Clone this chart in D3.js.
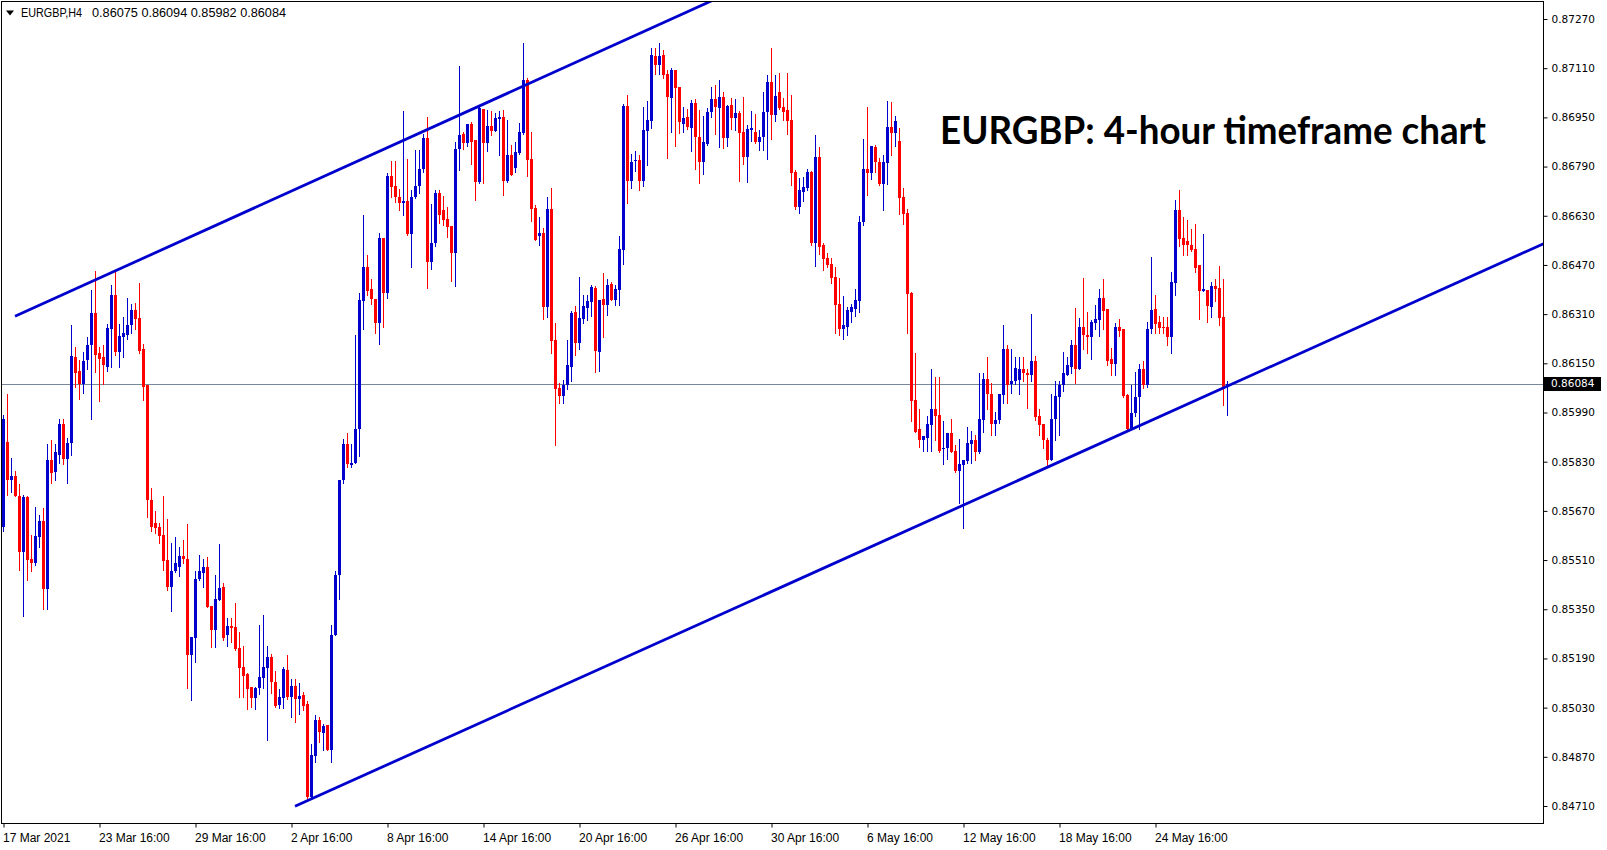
<!DOCTYPE html>
<html><head><meta charset="utf-8">
<script src="https://cdn.jsdelivr.net/npm/d3@7"></script>
<style>body{margin:0;background:#fff;overflow:hidden}svg{display:block}</style>
</head><body>
<svg id="c" width="1607" height="850"></svg>
<script>
const symbolLabel = "EURGBP,H4";
const lastQuote = [0.86075, 0.86094, 0.85982, 0.86084];
const titleText = "EURGBP: 4-hour timeframe chart";
const currentPrice = 0.86084;
const timeLabels = ["17 Mar 2021","23 Mar 16:00","29 Mar 16:00","2 Apr 16:00","8 Apr 16:00","14 Apr 16:00","20 Apr 16:00","26 Apr 16:00","30 Apr 16:00","6 May 16:00","12 May 16:00","18 May 16:00","24 May 16:00"];
const timeLabelBars = [0,24,48,72,96,120,144,168,192,216,240,264,288];
const priceTicks = [0.87270,0.87110,0.86950,0.86790,0.86630,0.86470,0.86310,0.86150,0.85990,0.85830,0.85670,0.85510,0.85350,0.85190,0.85030,0.84870,0.84710];

const openP = [0.85616,0.85895,0.85769,0.85782,0.85720,0.85535,0.85714,0.85512,0.85499,0.85584,0.85636,0.85415,0.85837,0.85795,0.85853,0.85951,0.85840,0.85892,0.86172,0.86126,
0.86084,0.86162,0.86211,0.86315,0.86182,0.86169,0.86139,0.86263,0.86373,0.86188,0.86237,0.86243,0.86273,0.86325,0.86299,0.86195,0.86078,0.85704,0.85632,0.85619,
0.85593,0.85509,0.85424,0.85473,0.85486,0.85522,0.85515,0.85200,0.85255,0.85447,0.85467,0.85486,0.85359,0.85281,0.85379,0.85421,0.85265,0.85294,0.85291,0.85223,
0.85161,0.85138,0.85096,0.85060,0.85093,0.85125,0.85158,0.85194,0.85112,0.85038,0.85060,0.85151,0.85064,0.85099,0.85057,0.85070,0.85041,0.84739,0.84872,0.84989,
0.84947,0.84973,0.84891,0.85265,0.85463,0.85769,0.85886,0.85818,0.85827,0.85935,0.86354,0.86464,0.86393,0.86360,0.86282,0.86559,0.86380,0.86760,0.86728,0.86692,
0.86672,0.86679,0.86572,0.86692,0.86728,0.86783,0.86884,0.86481,0.86542,0.86705,0.86650,0.86620,0.86598,0.86510,0.86848,0.86897,0.86868,0.86929,0.86877,0.86741,
0.86978,0.86868,0.86923,0.86906,0.86945,0.86952,0.86744,0.86828,0.86786,0.86835,0.86900,0.87072,0.86815,0.86656,0.86565,0.86575,0.86334,0.86653,0.86227,0.86071,
0.86045,0.86078,0.86139,0.86318,0.86217,0.86295,0.86331,0.86351,0.86396,0.86188,0.86360,0.86341,0.86409,0.86357,0.86390,0.86520,0.86988,0.86744,0.86809,0.86812,
0.86744,0.86906,0.86939,0.87150,0.87121,0.87153,0.87091,0.87013,0.87104,0.87049,0.86929,0.86952,0.86916,0.86997,0.86887,0.86806,0.86864,0.86968,0.87010,0.86981,
0.87017,0.86884,0.86991,0.86949,0.86965,0.86903,0.86822,0.86910,0.86903,0.86871,0.86887,0.86968,0.87066,0.86958,0.87033,0.86984,0.86975,0.86942,0.86773,0.86659,
0.86708,0.86721,0.86773,0.86542,0.86822,0.86536,0.86494,0.86474,0.86432,0.86344,0.86260,0.86269,0.86318,0.86328,0.86354,0.86611,0.86783,0.86770,0.86855,0.86806,
0.86734,0.86802,0.86919,0.86900,0.86874,0.86692,0.86640,0.86380,0.86032,0.85935,0.85899,0.85908,0.85948,0.86003,0.85983,0.85870,0.85873,0.85922,0.85866,0.85801,
0.85818,0.85831,0.85886,0.85899,0.85860,0.85967,0.86100,0.86051,0.85954,0.85964,0.86048,0.86198,0.86084,0.86091,0.86097,0.86133,0.86120,0.86113,0.86156,0.85977,
0.85954,0.85899,0.85837,0.85970,0.86042,0.86078,0.86113,0.86139,0.86211,0.86133,0.86269,0.86243,0.86237,0.86282,0.86292,0.86364,0.86328,0.86165,0.86149,0.86269,
0.86260,0.86048,0.85935,0.85987,0.86039,0.86130,0.86078,0.86260,0.86328,0.86286,0.86269,0.86269,0.86237,0.86412,0.86650,0.86559,0.86549,0.86536,0.86523,0.86471,
0.86386,0.86390,0.86334,0.86403,0.86396,0.86302,0.86075];

const highP = [0.85983,0.86051,0.85843,0.85801,0.85759,0.85723,0.85720,0.85593,0.85684,0.85658,0.85678,0.85886,0.85899,0.85889,0.85970,0.85970,0.85908,0.86276,0.86204,0.86162,
0.86188,0.86237,0.86390,0.86451,0.86204,0.86211,0.86279,0.86406,0.86455,0.86279,0.86302,0.86364,0.86344,0.86347,0.86412,0.86214,0.86078,0.85743,0.85671,0.85632,
0.85717,0.85645,0.85567,0.85584,0.85554,0.85574,0.85626,0.85259,0.85476,0.85525,0.85512,0.85519,0.85359,0.85460,0.85561,0.85434,0.85320,0.85320,0.85369,0.85275,
0.85229,0.85142,0.85096,0.85096,0.85298,0.85330,0.85229,0.85203,0.85148,0.85090,0.85161,0.85200,0.85122,0.85122,0.85109,0.85080,0.85051,0.84911,0.85005,0.84999,
0.84976,0.84973,0.85298,0.85476,0.85772,0.85905,0.85922,0.85886,0.86243,0.86380,0.86633,0.86503,0.86425,0.86360,0.86575,0.86559,0.86770,0.86809,0.86809,0.86718,
0.86971,0.86815,0.86715,0.86845,0.86845,0.86897,0.86952,0.86669,0.86715,0.86715,0.86695,0.86659,0.86598,0.86871,0.87118,0.86903,0.86929,0.86936,0.86877,0.86991,
0.86978,0.86975,0.86971,0.86965,0.86971,0.86975,0.86942,0.86861,0.86871,0.86932,0.87192,0.87079,0.86903,0.86666,0.86627,0.86591,0.86692,0.86721,0.86282,0.86087,
0.86097,0.86227,0.86321,0.86338,0.86432,0.86373,0.86373,0.86406,0.86403,0.86357,0.86445,0.86425,0.86416,0.86406,0.86565,0.86994,0.87023,0.86832,0.86841,0.86828,
0.86984,0.87004,0.87176,0.87176,0.87192,0.87169,0.87104,0.87111,0.87104,0.87049,0.86984,0.86978,0.87007,0.87010,0.86975,0.86955,0.86981,0.87049,0.87056,0.87072,
0.87033,0.86991,0.87013,0.87010,0.86971,0.87017,0.86926,0.86971,0.86962,0.86910,0.87033,0.87088,0.87176,0.87088,0.87095,0.87013,0.87095,0.87023,0.86780,0.86754,
0.86757,0.86783,0.86777,0.86893,0.86854,0.86542,0.86510,0.86494,0.86464,0.86429,0.86370,0.86334,0.86344,0.86393,0.86630,0.86880,0.86984,0.86858,0.86861,0.86819,
0.86828,0.87004,0.87001,0.86955,0.86916,0.86721,0.86653,0.86383,0.86185,0.86000,0.85912,0.85980,0.86133,0.86104,0.86104,0.85961,0.85922,0.85970,0.85883,0.85905,
0.85834,0.85944,0.85931,0.85918,0.86117,0.86120,0.86172,0.86087,0.85993,0.86051,0.86273,0.86211,0.86198,0.86169,0.86169,0.86169,0.86130,0.86312,0.86175,0.86003,
0.85954,0.85908,0.86051,0.86091,0.86091,0.86188,0.86169,0.86227,0.86331,0.86299,0.86429,0.86318,0.86292,0.86341,0.86393,0.86425,0.86328,0.86201,0.86282,0.86295,
0.86260,0.86051,0.86081,0.86123,0.86149,0.86156,0.86286,0.86497,0.86373,0.86305,0.86302,0.86302,0.86448,0.86682,0.86715,0.86627,0.86617,0.86588,0.86604,0.86471,
0.86572,0.86390,0.86416,0.86425,0.86468,0.86425,0.86094];

const lowP = [0.85603,0.85723,0.85730,0.85717,0.85479,0.85327,0.85444,0.85476,0.85493,0.85551,0.85350,0.85350,0.85762,0.85772,0.85827,0.85824,0.85762,0.85853,0.86074,0.86035,
0.86055,0.86133,0.85970,0.86123,0.86029,0.86084,0.86126,0.86139,0.86178,0.86139,0.86172,0.86230,0.86247,0.86260,0.86185,0.86032,0.85649,0.85606,0.85597,0.85564,
0.85479,0.85411,0.85343,0.85470,0.85457,0.85499,0.85093,0.85054,0.85177,0.85444,0.85421,0.85356,0.85226,0.85226,0.85379,0.85249,0.85229,0.85242,0.85216,0.85064,
0.85064,0.85025,0.85031,0.85025,0.85073,0.85093,0.84924,0.85077,0.85031,0.85028,0.85028,0.85057,0.84999,0.84982,0.85008,0.85021,0.84732,0.84732,0.84852,0.84917,
0.84891,0.84891,0.84852,0.85265,0.85382,0.85762,0.85814,0.85814,0.85827,0.85850,0.86260,0.86373,0.86344,0.86250,0.86214,0.86269,0.86364,0.86692,0.86676,0.86650,
0.86633,0.86568,0.86464,0.86689,0.86705,0.86773,0.86396,0.86458,0.86533,0.86607,0.86601,0.86562,0.86419,0.86403,0.86780,0.86848,0.86858,0.86799,0.86682,0.86738,
0.86738,0.86841,0.86893,0.86906,0.86828,0.86698,0.86741,0.86763,0.86773,0.86832,0.86897,0.86760,0.86614,0.86552,0.86536,0.86295,0.86302,0.86185,0.85883,0.86022,
0.86022,0.86065,0.86094,0.86178,0.86198,0.86282,0.86292,0.86305,0.86123,0.86126,0.86234,0.86308,0.86357,0.86341,0.86341,0.86474,0.86672,0.86721,0.86776,0.86715,
0.86728,0.86796,0.86916,0.87091,0.87091,0.87079,0.86818,0.86903,0.86858,0.86900,0.86903,0.86913,0.86841,0.86783,0.86738,0.86767,0.86861,0.86952,0.86897,0.86854,
0.86851,0.86858,0.86913,0.86910,0.86744,0.86799,0.86741,0.86874,0.86868,0.86845,0.86845,0.86815,0.86880,0.86939,0.86978,0.86942,0.86897,0.86731,0.86653,0.86640,
0.86679,0.86715,0.86536,0.86468,0.86507,0.86455,0.86464,0.86412,0.86250,0.86243,0.86230,0.86243,0.86286,0.86305,0.86318,0.86601,0.86698,0.86750,0.86773,0.86731,
0.86650,0.86734,0.86828,0.86858,0.86637,0.86604,0.86250,0.85961,0.85928,0.85879,0.85866,0.85866,0.85866,0.85902,0.85863,0.85821,0.85840,0.85860,0.85795,0.85694,
0.85613,0.85827,0.85827,0.85837,0.85857,0.85928,0.86000,0.85918,0.85918,0.85957,0.86022,0.86022,0.86055,0.86084,0.86051,0.86094,0.86006,0.86094,0.85964,0.85918,
0.85873,0.85818,0.85834,0.85899,0.85918,0.86061,0.86113,0.86117,0.86087,0.86130,0.86195,0.86185,0.86165,0.86260,0.86240,0.86260,0.86143,0.86113,0.86113,0.86240,
0.86042,0.85935,0.85935,0.85980,0.85935,0.86071,0.86074,0.86247,0.86247,0.86247,0.86250,0.86208,0.86185,0.86373,0.86533,0.86503,0.86503,0.86516,0.86448,0.86295,
0.86386,0.86286,0.86302,0.86354,0.86273,0.86016,0.85982];

const closeP = [0.85970,0.85769,0.85782,0.85717,0.85535,0.85714,0.85509,0.85499,0.85587,0.85636,0.85415,0.85837,0.85792,0.85860,0.85951,0.85840,0.85892,0.86175,0.86120,0.86084,
0.86159,0.86211,0.86315,0.86178,0.86165,0.86143,0.86266,0.86373,0.86188,0.86240,0.86247,0.86276,0.86325,0.86295,0.86191,0.86074,0.85704,0.85616,0.85613,0.85587,
0.85506,0.85424,0.85476,0.85499,0.85522,0.85515,0.85200,0.85259,0.85450,0.85473,0.85486,0.85356,0.85281,0.85382,0.85418,0.85255,0.85294,0.85288,0.85220,0.85158,
0.85132,0.85090,0.85060,0.85093,0.85129,0.85161,0.85194,0.85112,0.85034,0.85064,0.85155,0.85064,0.85099,0.85057,0.85067,0.85034,0.84739,0.84875,0.84989,0.84950,
0.84969,0.84891,0.85265,0.85463,0.85769,0.85886,0.85821,0.85827,0.85935,0.86357,0.86464,0.86386,0.86360,0.86282,0.86559,0.86380,0.86760,0.86724,0.86692,0.86672,
0.86679,0.86572,0.86692,0.86728,0.86783,0.86884,0.86481,0.86542,0.86705,0.86633,0.86617,0.86594,0.86510,0.86848,0.86893,0.86868,0.86929,0.86871,0.86741,0.86981,
0.86868,0.86923,0.86906,0.86949,0.86952,0.86744,0.86828,0.86763,0.86838,0.86903,0.87072,0.86812,0.86653,0.86552,0.86575,0.86334,0.86653,0.86224,0.86068,0.86045,
0.86078,0.86143,0.86315,0.86217,0.86299,0.86338,0.86354,0.86399,0.86191,0.86357,0.86341,0.86406,0.86357,0.86393,0.86523,0.86988,0.86744,0.86806,0.86812,0.86744,
0.86910,0.86942,0.87153,0.87121,0.87150,0.87088,0.87017,0.87104,0.87046,0.86936,0.86949,0.86919,0.86997,0.86887,0.86806,0.86871,0.86968,0.87010,0.86984,0.87017,
0.86884,0.86988,0.86949,0.86965,0.86900,0.86822,0.86913,0.86916,0.86871,0.86887,0.86968,0.87066,0.86958,0.87020,0.86981,0.86968,0.86939,0.86770,0.86659,0.86715,
0.86724,0.86773,0.86542,0.86822,0.86529,0.86490,0.86471,0.86429,0.86341,0.86263,0.86273,0.86325,0.86334,0.86357,0.86611,0.86783,0.86770,0.86858,0.86806,0.86734,
0.86806,0.86919,0.86900,0.86939,0.86689,0.86637,0.86377,0.86029,0.85928,0.85899,0.85912,0.85951,0.86003,0.85980,0.85866,0.85876,0.85922,0.85863,0.85801,0.85821,
0.85834,0.85892,0.85899,0.85860,0.85970,0.86100,0.86051,0.85954,0.85967,0.86051,0.86198,0.86081,0.86094,0.86136,0.86133,0.86117,0.86113,0.86156,0.85974,0.85948,
0.85899,0.85837,0.85970,0.86045,0.86078,0.86117,0.86143,0.86211,0.86133,0.86269,0.86243,0.86237,0.86286,0.86295,0.86364,0.86321,0.86156,0.86149,0.86269,0.86256,
0.86045,0.85935,0.85990,0.86039,0.86130,0.86078,0.86260,0.86325,0.86279,0.86266,0.86266,0.86237,0.86416,0.86650,0.86555,0.86536,0.86536,0.86520,0.86461,0.86386,
0.86393,0.86338,0.86403,0.86393,0.86299,0.86074,0.86084];

// channel lines: anchor points (bar index, price)
const upperTrendBars = [2.875, 162.4];
const upperTrendPrices = [0.86303, 0.87243];
const lowerTrendBars = [72.875, 309.6];
const lowerTrendPrices = [0.84709, 0.86097];

const W = 1607, H = 850;
const plotL = 2, plotT = 2, plotR = 1543, plotB = 823;
const bull = "#0000CD", bear = "#FF0000";

const svg = d3.select("#c");
const x = d3.scaleLinear().domain([0, 306]).range([3.5, 1227.5]);
const y = d3.scaleLinear().domain([0.84710, 0.87270]).range([806, 19]);

svg.append("rect").attr("width", W).attr("height", H).attr("fill", "#fff");

const defs = svg.append("defs");
defs.append("clipPath").attr("id", "plotclip").append("rect")
  .attr("x", plotL).attr("y", plotT).attr("width", plotR - plotL).attr("height", plotB - plotT);

const plot = svg.append("g").attr("clip-path", "url(#plotclip)");

// current price line
const cy = Math.round(y(currentPrice)) + 0.5;
plot.append("line").attr("x1", plotL).attr("x2", plotR).attr("y1", cy).attr("y2", cy)
  .attr("stroke", "#778899").attr("stroke-width", 1);

const bars = d3.range(closeP.length);
// wicks
plot.append("g").selectAll("line").data(bars).join("line")
  .attr("x1", i => x(i)).attr("x2", i => x(i))
  .attr("y1", i => Math.round(y(highP[i])))
  .attr("y2", i => Math.round(y(lowP[i])) + 1)
  .attr("stroke", i => closeP[i] >= openP[i] ? bull : bear)
  .attr("stroke-width", 1);
// bodies
plot.append("g").selectAll("rect").data(bars).join("rect")
  .attr("x", i => x(i) - 1.5)
  .attr("width", 3)
  .attr("y", i => Math.round(y(Math.max(openP[i], closeP[i]))))
  .attr("height", i => Math.max(1, Math.round(y(Math.min(openP[i], closeP[i]))) - Math.round(y(Math.max(openP[i], closeP[i])))))
  .attr("fill", i => closeP[i] >= openP[i] ? bull : bear);

// channel lines (rays to the right)
function ray(bs, ps) {
  const slope = (ps[1] - ps[0]) / (bs[1] - bs[0]);
  const endBar = x.invert(plotR + 5);
  return [[x(bs[0]), y(ps[0])], [x(endBar), y(ps[0] + slope * (endBar - bs[0]))]];
}
const lineGen = d3.line();
plot.append("path").attr("d", lineGen(ray(upperTrendBars, upperTrendPrices)))
  .attr("stroke", bull).attr("stroke-width", 2.8).attr("fill", "none");
plot.append("path").attr("d", lineGen(ray(lowerTrendBars, lowerTrendPrices)))
  .attr("stroke", bull).attr("stroke-width", 2.8).attr("fill", "none");

// frame
svg.append("rect").attr("x", plotL - 0.5).attr("y", plotT - 0.5)
  .attr("width", plotR - plotL + 1).attr("height", plotB - plotT + 1)
  .attr("fill", "none").attr("stroke", "#000").attr("stroke-width", 1);

// price axis
const yAxis = d3.axisRight(y).tickValues(priceTicks).tickFormat(d3.format(".5f")).tickSize(4).tickPadding(4);
const gy = svg.append("g").attr("transform", `translate(${plotR + 0.5},0)`).call(yAxis);
gy.select(".domain").remove();
gy.selectAll("text").attr("font-family", "DejaVu Sans, Verdana, sans-serif").attr("font-size", 10.5).attr("fill", "#000");
gy.selectAll("line").attr("stroke", "#000");

// current price tag
const tag = svg.append("g");
tag.append("rect").attr("x", plotR + 1).attr("y", Math.round(y(currentPrice)) - 7).attr("width", 57).attr("height", 14).attr("fill", "#000");
tag.append("text").attr("x", plotR + 8).attr("y", y(currentPrice)).attr("dy", "0.35em")
  .attr("font-family", "DejaVu Sans, Verdana, sans-serif").attr("font-size", 10.5).attr("fill", "#fff")
  .text(d3.format(".5f")(currentPrice));

// time axis
const xAxis = d3.axisBottom(x).tickValues(timeLabelBars).tickFormat((d, i) => timeLabels[i]).tickSize(4).tickPadding(6);
const gx = svg.append("g").attr("transform", `translate(0,${plotB + 0.5})`).call(xAxis);
gx.select(".domain").remove();
gx.selectAll("text").attr("text-anchor", "start").attr("dx", "-1")
  .attr("font-family", "Liberation Sans, Arial, sans-serif").attr("font-size", 12).attr("fill", "#000");
gx.selectAll("line").attr("stroke", "#000");

// header
svg.append("path").attr("d", "M6,10.5 L14,10.5 L10,15.5 Z").attr("fill", "#000");
svg.append("text").attr("x", 21).attr("y", 17).attr("font-family", "Liberation Sans, Arial, sans-serif")
  .attr("font-size", 12).attr("fill", "#000").attr("textLength", 61).attr("lengthAdjust", "spacingAndGlyphs")
  .text(symbolLabel);
svg.append("text").attr("x", 92).attr("y", 17).attr("font-family", "Liberation Sans, Arial, sans-serif")
  .attr("font-size", 12).attr("fill", "#000").attr("textLength", 194).attr("lengthAdjust", "spacingAndGlyphs")
  .text(lastQuote.map(d3.format(".5f")).join(" "));

// title
svg.append("text").attr("x", 940).attr("y", 144).attr("font-family", "Lato, Open Sans, sans-serif")
  .attr("font-weight", "bold").attr("font-size", 39).attr("fill", "#000")
  .attr("textLength", 546).attr("lengthAdjust", "spacingAndGlyphs")
  .text(titleText);
</script>
</body></html>
